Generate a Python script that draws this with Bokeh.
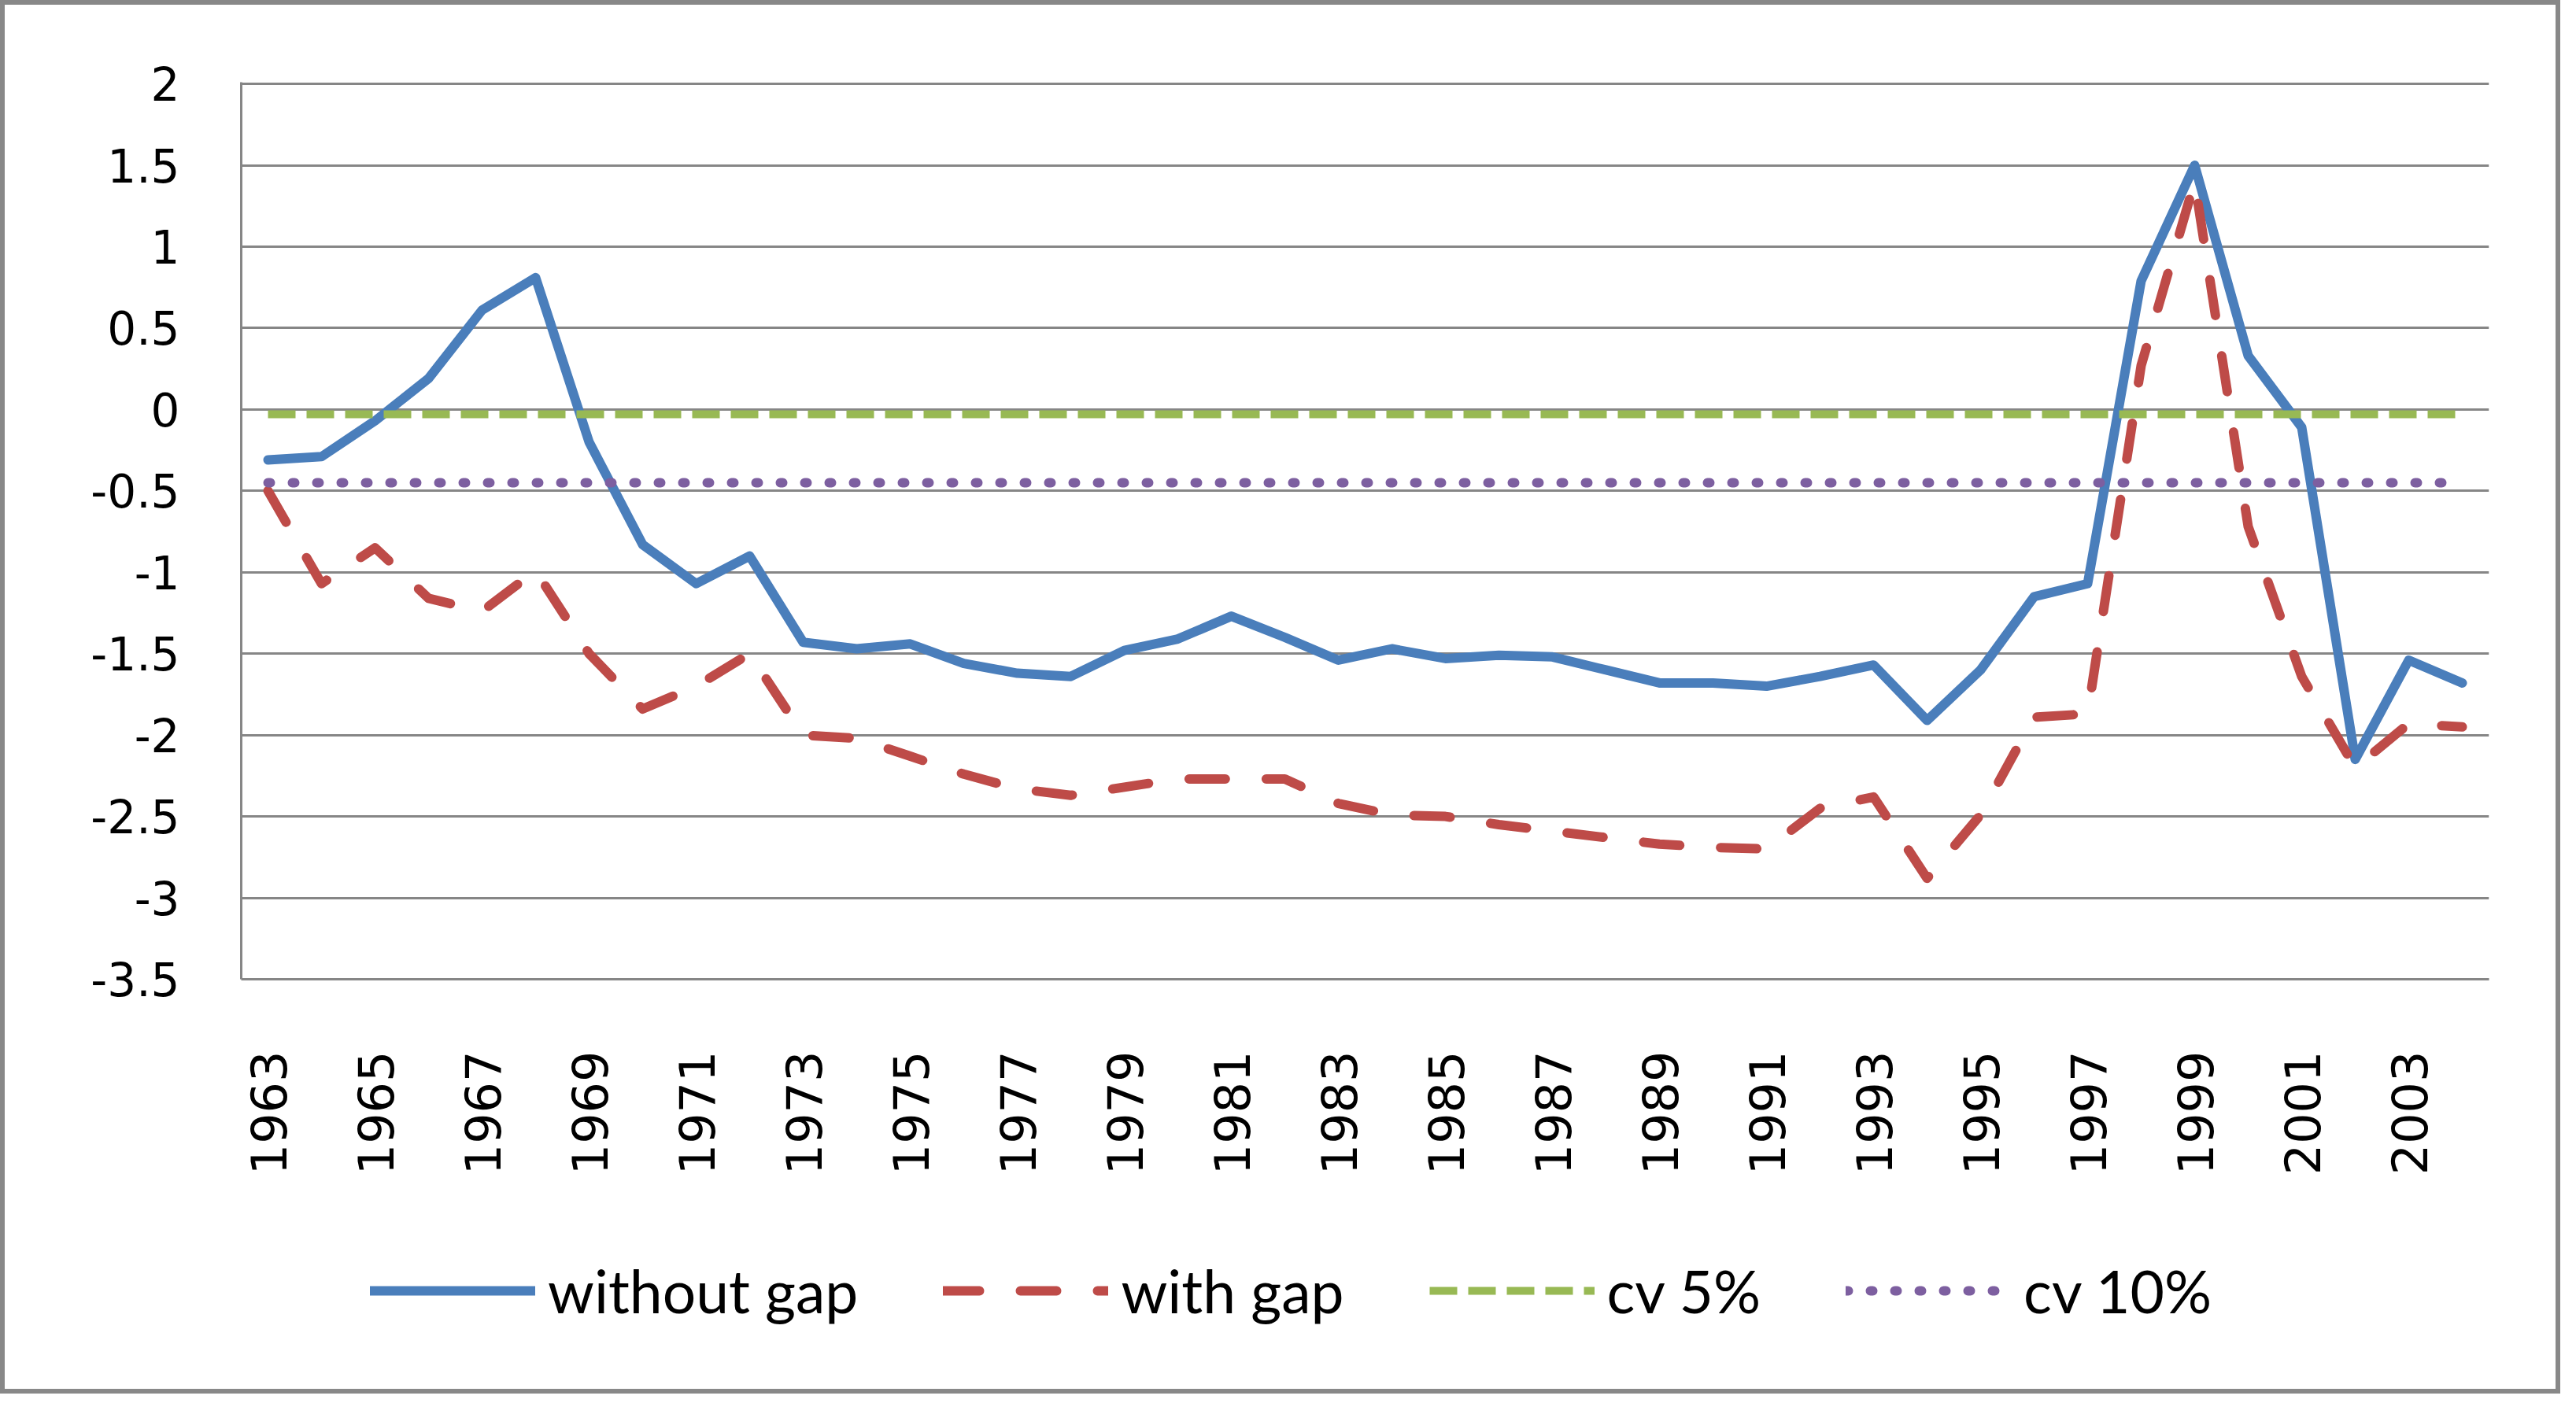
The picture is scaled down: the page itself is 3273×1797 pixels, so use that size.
from bokeh.plotting import figure
from bokeh.models import Range1d, FixedTicker, Legend, LegendItem
from bokeh.layouts import column
from bokeh.embed import file_html
from bokeh.resources import INLINE
import math

# ---------------- data ----------------
years = [1963, 1964, 1965, 1966, 1967, 1968, 1969, 1970, 1971, 1972,
         1973, 1974, 1975, 1976, 1977, 1978, 1979, 1980, 1981, 1982,
         1983, 1984, 1985, 1986, 1987, 1988, 1989, 1990, 1991, 1992,
         1993, 1994, 1995, 1996, 1997, 1998, 1999, 2000, 2001, 2002,
         2003, 2004]

without_gap = [-0.31, -0.29, -0.07, 0.19, 0.61, 0.81, -0.20, -0.83, -1.07, -0.90,
               -1.43, -1.47, -1.44, -1.56, -1.62, -1.64, -1.48, -1.41, -1.27, -1.40,
               -1.54, -1.47, -1.53, -1.51, -1.52, -1.60, -1.68, -1.68, -1.70, -1.64,
               -1.57, -1.91, -1.60, -1.15, -1.07, 0.79, 1.50, 0.33, -0.11, -2.15,
               -1.54, -1.68]

with_gap = [-0.50, -1.07, -0.85, -1.16, -1.24, -0.99, -1.50, -1.84, -1.70, -1.50,
            -2.00, -2.02, -2.13, -2.24, -2.33, -2.37, -2.32, -2.27, -2.27, -2.27,
            -2.42, -2.49, -2.50, -2.55, -2.59, -2.63, -2.67, -2.69, -2.70, -2.45,
            -2.38, -2.88, -2.49, -1.89, -1.87, 0.27, 1.40, -0.72, -1.64, -2.20,
            -1.93, -1.95]

cv_5 = [-0.03, -0.03, -0.03, -0.03, -0.03, -0.03, -0.03, -0.03, -0.03, -0.03,
        -0.03, -0.03, -0.03, -0.03, -0.03, -0.03, -0.03, -0.03, -0.03, -0.03,
        -0.03, -0.03, -0.03, -0.03, -0.03, -0.03, -0.03, -0.03, -0.03, -0.03,
        -0.03, -0.03, -0.03, -0.03, -0.03, -0.03, -0.03, -0.03, -0.03, -0.03,
        -0.03, -0.03]

cv_10 = [-0.45, -0.45, -0.45, -0.45, -0.45, -0.45, -0.45, -0.45, -0.45, -0.45,
         -0.45, -0.45, -0.45, -0.45, -0.45, -0.45, -0.45, -0.45, -0.45, -0.45,
         -0.45, -0.45, -0.45, -0.45, -0.45, -0.45, -0.45, -0.45, -0.45, -0.45,
         -0.45, -0.45, -0.45, -0.45, -0.45, -0.45, -0.45, -0.45, -0.45, -0.45,
         -0.45, -0.45]

series_names = ["without gap", "with gap", "cv 5%", "cv 10%"]

y_ticks = [2, 1.5, 1, 0.5, 0, -0.5, -1, -1.5, -2, -2.5, -3, -3.5]
y_tick_labels = ["2", "1.5", "1", "0.5", "0", "-0.5", "-1", "-1.5", "-2", "-2.5", "-3", "-3.5"]

x_ticks = [1963, 1965, 1967, 1969, 1971, 1973, 1975, 1977, 1979, 1981, 1983,
           1985, 1987, 1989, 1991, 1993, 1995, 1997, 1999, 2001, 2003]
x_tick_labels = ["1963", "1965", "1967", "1969", "1971", "1973", "1975", "1977",
                 "1979", "1981", "1983", "1985", "1987", "1989", "1991", "1993",
                 "1995", "1997", "1999", "2001", "2003"]

# ---------------- styles ----------------
GRAY = "#868686"
BLUE, RED, GREEN, PURPLE = "#4A7EBB", "#BE4B48", "#98B954", "#7D5FA0"
blue_style = dict(line_color=BLUE, line_width=12, line_join="round", line_cap="round")
red_style = dict(line_color=RED, line_width=12, line_join="round", line_cap="round",
                 line_dash="46 52")
green_style = dict(line_color=GREEN, line_width=10, line_cap="butt", line_dash="35 14")
purple_style = dict(line_color=PURPLE, line_width=12, line_cap="round", line_dash="3 28")

# canvas origin on the page: 8px body margin + 6px css border
OX, OY = 14, 14
W = 3241
H1 = 1526          # main chart
H2 = 233           # legend strip
FRAME_L, FRAME_T, FRAME_R, FRAME_B = 314 - OX, 112 - OY, 3170 - OX, 1252 - OY

p = figure(width=W, height=H1, output_backend="svg", toolbar_location=None,
           x_range=Range1d(years[0] - 0.5, years[-1] + 0.5),
           y_range=Range1d(min(y_ticks), max(y_ticks) + 0.01),
           min_border_left=FRAME_L, min_border_top=FRAME_T,
           min_border_right=W - FRAME_R, min_border_bottom=H1 - FRAME_B)
p.background_fill_color = "white"
p.border_fill_color = "white"
p.outline_line_color = None

p.xaxis.ticker = FixedTicker(ticks=x_ticks)
p.xaxis.major_label_overrides = {t: s for t, s in zip(x_ticks, x_tick_labels)}
p.xaxis.major_label_orientation = math.pi / 2
p.xaxis.major_label_text_font = "DejaVu Sans"
p.xaxis.major_label_text_font_size = "62px"
p.xaxis.major_label_text_color = "black"
p.xaxis.major_label_standoff = 85
p.xaxis.major_tick_line_color = None
p.xaxis.minor_tick_line_color = None
p.xaxis.axis_line_color = GRAY
p.xaxis.axis_line_width = 3

p.yaxis.ticker = FixedTicker(ticks=y_ticks)
p.yaxis.major_label_overrides = {t: s for t, s in zip(y_ticks, y_tick_labels)}
p.yaxis.major_label_text_font = "DejaVu Sans"
p.yaxis.major_label_text_font_size = "58px"
p.yaxis.major_label_text_color = "black"
p.yaxis.major_label_standoff = 72
p.yaxis.major_tick_line_color = None
p.yaxis.minor_tick_line_color = None
p.yaxis.axis_line_color = GRAY
p.yaxis.axis_line_width = 3

p.xgrid.grid_line_color = None
p.ygrid.grid_line_color = GRAY
p.ygrid.grid_line_width = 3

p.line(years, without_gap, **blue_style)
p.line(years, with_gap, **red_style)
p.line(years, cv_5, **green_style)
p.line(years, cv_10, **purple_style)

# ---------------- legend strip ----------------
# same series drawn again, but outside this strip's visible range: only the keys show
q = figure(width=W, height=H2, output_backend="svg", toolbar_location=None,
           x_axis_type=None, y_axis_type=None,
           x_range=Range1d(0, 1), y_range=Range1d(0, 1),
           min_border_left=FRAME_L, min_border_right=W - FRAME_R,
           min_border_top=0, min_border_bottom=0)
q.background_fill_color = "white"
q.border_fill_color = "white"
q.outline_line_color = None
q.xgrid.grid_line_color = None
q.ygrid.grid_line_color = None

k_blue = q.line(years, without_gap, **blue_style)
k_red = q.line(years, with_gap, **red_style)
k_green = q.line(years, cv_5, **green_style)
k_purple = q.line(years, cv_10, **purple_style)

legend = Legend(items=[LegendItem(label=series_names[0], renderers=[k_blue]),
                       LegendItem(label=series_names[1], renderers=[k_red]),
                       LegendItem(label=series_names[2], renderers=[k_green]),
                       LegendItem(label=series_names[3], renderers=[k_purple])],
                orientation="horizontal", location=(478 - 314, 80),
                glyph_width=210, glyph_height=40, label_standoff=16, spacing=108,
                padding=0, margin=0, border_line_alpha=0, background_fill_alpha=0,
                label_text_font="Lato", label_text_font_size="75px",
                label_text_color="black")
q.add_layout(legend)

layout = column(p, q, spacing=0,
                styles={"border": "6px solid #888888", "background-color": "white"})

open("out.html", "w").write(file_html(layout, INLINE))
